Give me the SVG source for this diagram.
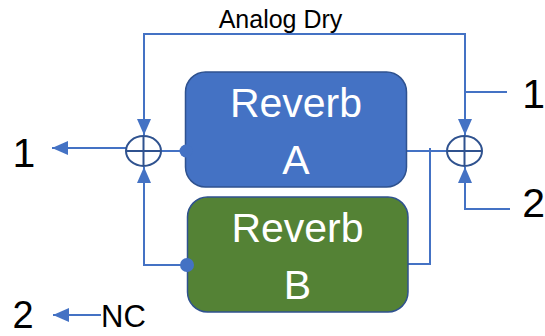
<svg xmlns="http://www.w3.org/2000/svg" width="545" height="336" viewBox="0 0 545 336">
<style>
.ln{fill:none;stroke:#4472C4;stroke-width:2}
.sum{fill:#fff;stroke:#2F528F;stroke-width:2}
.box{stroke:#2F528F;stroke-width:1.5}
.lbl{font-family:"Liberation Sans",Arial,sans-serif;fill:#000}
.in{font-family:"Liberation Sans",Arial,sans-serif;fill:#fff;font-size:41px;text-anchor:middle}
.dot{fill:#4472C4}
</style>
<defs>
<marker id="ah" viewBox="0 0 16 14" markerWidth="16" markerHeight="14" refX="16" refY="7" orient="auto" markerUnits="userSpaceOnUse">
<path d="M0,0 L16,7 L0,14 z" fill="#4472C4"/>
</marker>
</defs>
<g id="connectors">
<path class="ln" d="M305,34 H144 V135" marker-end="url(#ah)"/>
<path class="ln" d="M305,34 H465 V135" marker-end="url(#ah)"/>
<path class="ln" d="M507,92 H465"/>
<path class="ln" d="M510,209 H465 V167" marker-end="url(#ah)"/>
<path class="ln" d="M186,151 H161"/>
<path class="ln" d="M126,148 H52" marker-end="url(#ah)"/>
<path class="ln" d="M187,265 H144 V167" marker-end="url(#ah)"/>
<path class="ln" d="M407,151 H447"/>
<path class="ln" d="M408,264 H430 V148"/>
<path class="ln" d="M101,315 H53" marker-end="url(#ah)"/>
</g>
<g id="reverbA">
<rect class="box" x="185.5" y="72" width="221" height="115" rx="20" fill="#4472C4"/>
<text class="in" x="296" y="117">Reverb</text>
<text class="in" x="296" y="174">A</text>
</g>
<g id="reverbB">
<rect class="box" x="187.5" y="197" width="220.5" height="115" rx="20" fill="#548235"/>
<text class="in" x="297.5" y="242">Reverb</text>
<text class="in" x="297.5" y="299">B</text>
</g>
<g id="dotA"><circle class="dot" cx="186" cy="151" r="6.5"/></g>
<g id="dotB"><circle class="dot" cx="187" cy="265" r="7"/></g>
<g id="sumL">
<ellipse class="sum" cx="143.5" cy="151" rx="17.5" ry="15"/>
<path d="M126,151 H161 M143.5,136 V166" stroke="#2F528F" stroke-width="2"/>
</g>
<g id="sumR">
<ellipse class="sum" cx="464.5" cy="151" rx="17.5" ry="15"/>
<path d="M447,151 H482 M464.5,136 V166" stroke="#2F528F" stroke-width="2"/>
</g>
<g id="labels">
<text class="lbl" x="280.5" y="28" font-size="25" text-anchor="middle">Analog Dry</text>
<text class="lbl" x="24" y="167" font-size="41" text-anchor="middle">1</text>
<text class="lbl" x="545" y="108" font-size="41" text-anchor="end">1</text>
<text class="lbl" x="545" y="217" font-size="41" text-anchor="end">2</text>
<text class="lbl" x="23" y="328" font-size="38" text-anchor="middle">2</text>
<text class="lbl" x="101" y="327" font-size="31">NC</text>
</g>
</svg>
